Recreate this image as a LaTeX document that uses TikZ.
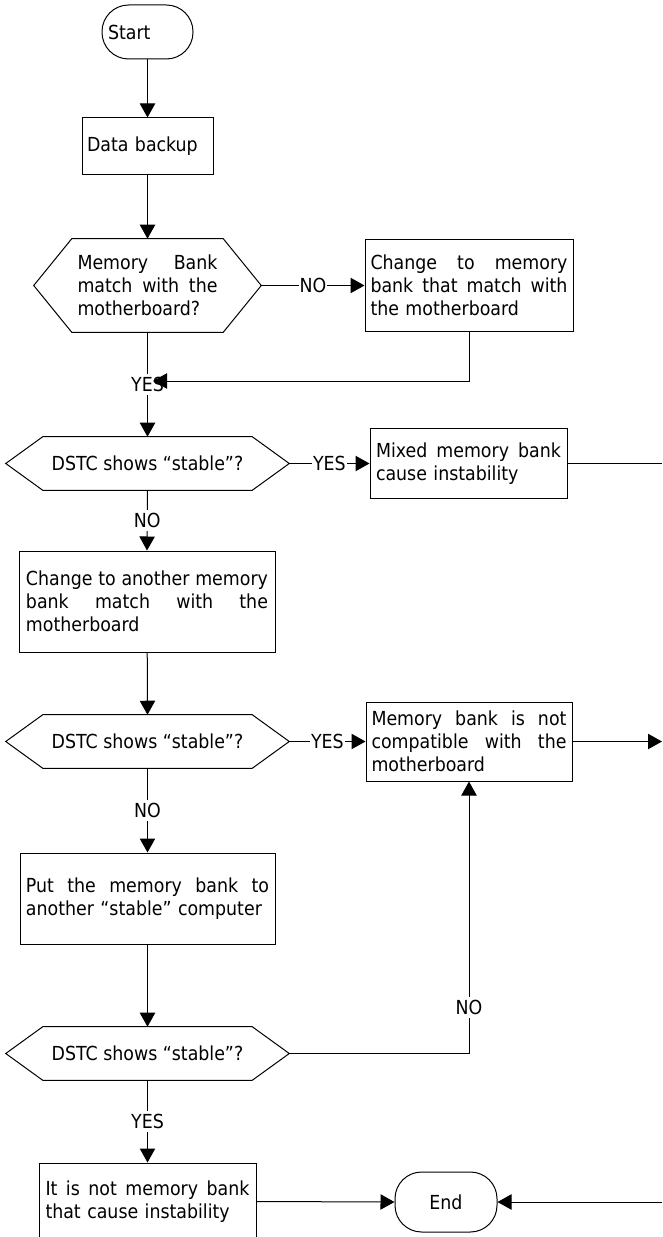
\documentclass[tikz,border=0pt]{standalone}
\usepackage{fontspec}
\setmainfont{DejaVu Sans Condensed}
\usetikzlibrary{arrows.meta,calc}
\newcommand\justline[2]{\makebox[#1][s]{#2}}
\newcommand\hexout[2]{\draw[edge] (#1.west) -- ($(#1.north west)+(#2,0)$) -- ($(#1.north east)+(-#2,0)$) -- (#1.east) -- ($(#1.south east)+(-#2,0)$) -- ($(#1.south west)+(#2,0)$) -- cycle;}
\begin{document}
\begin{tikzpicture}[x=0.75pt,y=-0.75pt,
  font=\fontsize{14.5pt}{17.25pt}\selectfont,
  edge/.style={line width=0.75pt},
  arr/.style={edge,-{Triangle[length=10.5pt,width=11.5pt]}},
  box/.style={draw,edge,inner sep=0pt,align=left},
  term/.style={draw,edge,inner sep=0pt,rounded corners=20pt},
  hexn/.style={inner sep=0pt,align=left,minimum width=212.25pt,minimum height=39.75pt},
  lab/.style={fill=white,inner xsep=0.75pt,inner ysep=2.5pt}]
\useasboundingbox (0,0) rectangle (662,1237);

\node[term,minimum width=68.25pt,minimum height=40.5pt,text width=59.25pt,align=left] (start) at (147.5,32) {Start};
\node[box,minimum width=98.25pt,minimum height=42.75pt,text width=90.75pt] (box1) at (147.5,146.5) {Data backup};
\node[inner sep=0pt,align=left,minimum width=170.25pt,minimum height=69.75pt,text width=105pt] (hex1) at (147.5,285.5)
  {\justline{105pt}{Memory\hfill Bank}\\\justline{105pt}{match\hfill with\hfill the}\\motherboard?};
\hexout{hex1}{38}
\node[box,minimum width=156pt,minimum height=68.25pt,text width=147.75pt] (box2) at (469,285.5)
  {\justline{147.75pt}{Change\hfill to\hfill memory}\\\justline{147.75pt}{bank\hfill that\hfill match\hfill with}\\the motherboard};
\node[hexn] (hex2) at (147.5,463.5) {DSTC shows “stable”?};
\hexout{hex2}{37}
\node[box,minimum width=147.75pt,minimum height=52.5pt,text width=138.75pt] (box3) at (468.5,463.5)
  {\justline{138.75pt}{Mixed\hfill memory\hfill bank}\\cause instability};
\node[box,minimum width=192pt,minimum height=75.75pt,text width=181.5pt] (box4) at (147,601.5)
  {\justline{181.5pt}{Change\hfill to\hfill another\hfill memory}\\\justline{181.5pt}{bank\hfill match\hfill with\hfill the}\\motherboard};
\node[hexn] (hex3) at (147.5,741.5) {DSTC shows “stable”?};
\hexout{hex3}{37}
\node[box,minimum width=154.5pt,minimum height=59.25pt,text width=146.25pt] (box5) at (469,741.5)
  {\justline{146.25pt}{Memory\hfill bank\hfill is\hfill not}\\\justline{146.25pt}{compatible\hfill with\hfill the}\\motherboard};
\node[box,minimum width=191.25pt,minimum height=68.25pt,text width=182.25pt] (box6) at (147.5,898.5)
  {\justline{182.25pt}{Put\hfill the\hfill memory\hfill bank\hfill to}\\another “stable” computer};
\node[hexn] (hex4) at (147.5,1053.5) {DSTC shows “stable”?};
\hexout{hex4}{37}
\node[box,minimum width=162.75pt,minimum height=57.75pt,text width=153pt] (box7) at (147.5,1201.5)
  {\justline{153pt}{It\hfill is\hfill not\hfill memory\hfill bank}\\that cause instability};
\node[term,minimum width=76.5pt,minimum height=45pt] (endn) at (446,1202) {End};

\coordinate (m1) at (153,381);
\coordinate (r1) at (662,463.5);
\coordinate (r2) at (662,741.5);
\coordinate (c4) at (469,1053.5);
\coordinate (r3) at (662,1202);

\draw[arr] (start) -- (box1);
\draw[arr] (box1) -- (hex1.north);
\draw[arr] (hex1.east) -- node[lab]{NO} (box2.west);
\draw[arr] (hex1.south) -- node[lab]{YES} (hex2.north);
\draw[arr] (box2.south) |- (m1);
\draw[arr] (hex2.east) -- node[lab]{YES} (box3.west);
\draw[edge] (box3.east) -- (r1);
\draw[arr] (hex2.south) -- node[lab]{NO} (box4.north);
\draw[arr] (box4) -- (hex3.north);
\draw[arr] (hex3.east) -- node[lab]{YES} (box5.west);
\draw[arr] (box5.east) -- (r2);
\draw[arr] (hex3.south) -- node[lab]{NO} (box6.north);
\draw[arr] (box6) -- (hex4.north);
\draw[arr] (hex4.east) -- (c4) -- node[lab,pos=0.17]{NO} (box5.south);
\draw[arr] (hex4.south) -- node[lab]{YES} (box7.north);
\draw[arr] (box7.east) -- (endn.west);
\draw[arr] (r3) -- (endn.east);
\end{tikzpicture}
\end{document}
